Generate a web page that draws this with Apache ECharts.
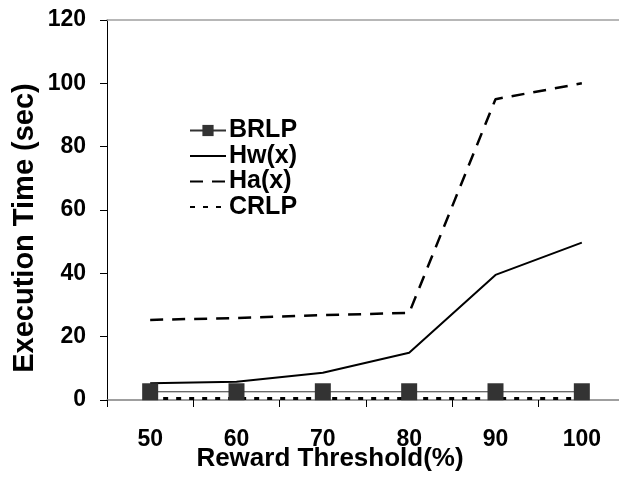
<!DOCTYPE html>
<html>
<head>
<meta charset="utf-8">
<script src="https://cdn.jsdelivr.net/npm/echarts@6/dist/echarts.min.js"></script>
<style>
html,body{margin:0;padding:0;background:#fff;}
#chart{width:619px;height:481px;}
</style>
</head>
<body>
<div id="chart"></div>
<script>
const categories = ['50', '60', '70', '80', '90', '100'];
const brlp = [2.6, 2.6, 2.6, 2.6, 2.6, 2.6];
const hw = [5.3, 5.8, 8.6, 14.9, 39.5, 49.7];
const ha = [25.3, 25.9, 26.8, 27.5, 95.0, 100.0];
const crlp = [0.5, 0.5, 0.5, 0.5, 0.5, 0.5];
const yMin = 0, yMax = 120, yStep = 20;

const FONT = '"Liberation Sans", Arial, sans-serif';
const hidden = {opacity: 0, color: 'rgba(0,0,0,0)', borderWidth: 0};
const chart = echarts.init(document.getElementById('chart'), null, {renderer: 'canvas'});
chart.setOption({
  animation: false,
  backgroundColor: '#fff',
  grid: {left: 107, top: 20, width: 518, height: 380, containLabel: false, outerBoundsMode: 'none'},
  legend: {
    orient: 'vertical', left: 184, top: 113,
    itemWidth: 36, itemHeight: 14, itemGap: 0.5,
    textStyle: {fontFamily: FONT, fontSize: 25, fontWeight: 'bold', color: '#000', padding: [0, 0, 0, -2]},
    data: [
      {name: 'BRLP'},
      {name: 'Hw(x)', itemStyle: hidden},
      {name: 'Ha(x)', itemStyle: hidden},
      {name: 'CRLP', itemStyle: hidden}
    ]
  },
  xAxis: [{
    type: 'category', data: categories, boundaryGap: true,
    axisLine: {lineStyle: {color: '#808080', width: 1.5}},
    axisTick: {show: true, length: 7, lineStyle: {color: '#000', width: 1}},
    axisLabel: {margin: 28, fontFamily: FONT, fontSize: 23, fontWeight: 'bold', color: '#000'},
    name: 'Reward Threshold(%)', nameLocation: 'middle', nameGap: 46, nameMoveOverlap: false,
    nameTextStyle: {fontFamily: FONT, fontSize: 26, fontWeight: 'bold', color: '#000', padding: [0, 72, 0, 0]},
    splitLine: {show: false}
  }, {
    type: 'category', data: categories, position: 'top',
    axisLine: {lineStyle: {color: '#a0a0a0', width: 1.5}},
    axisTick: {show: false}, axisLabel: {show: false}, splitLine: {show: false}
  }],
  yAxis: {
    type: 'value', min: yMin, max: yMax, interval: yStep,
    axisLine: {show: true, lineStyle: {color: '#000', width: 1}},
    axisTick: {show: true, length: 7, lineStyle: {color: '#000', width: 1}},
    axisLabel: {margin: 21, fontFamily: FONT, fontSize: 23, fontWeight: 'bold', color: '#000'},
    splitLine: {show: false},
    name: 'Execution Time (sec)', nameLocation: 'middle', nameGap: 68, nameMoveOverlap: false,
    nameTextStyle: {fontFamily: FONT, fontSize: 29, fontWeight: 'bold', color: '#000', padding: [0, 36, 0, 0]}
  },
  series: [
    {
      name: 'CRLP', type: 'line', data: crlp, symbol: 'none', z: 2,
      lineStyle: {color: '#000', width: 3, type: [5, 8]}, itemStyle: {color: '#000'}
    },
    {
      name: 'Hw(x)', type: 'line', data: hw, symbol: 'none', z: 3,
      lineStyle: {color: '#000', width: 2}, itemStyle: {color: '#000'}
    },
    {
      name: 'Ha(x)', type: 'line', data: ha, symbol: 'none', z: 3,
      lineStyle: {color: '#000', width: 2.5, type: [13, 9]}, itemStyle: {color: '#000'}
    },
    {
      name: 'BRLP', type: 'line', data: brlp, symbol: 'rect', symbolSize: [16, 17], z: 4,
      lineStyle: {color: '#333', width: 1}, itemStyle: {color: '#333333', borderWidth: 0}
    }
  ]
});
</script>
</body>
</html>
